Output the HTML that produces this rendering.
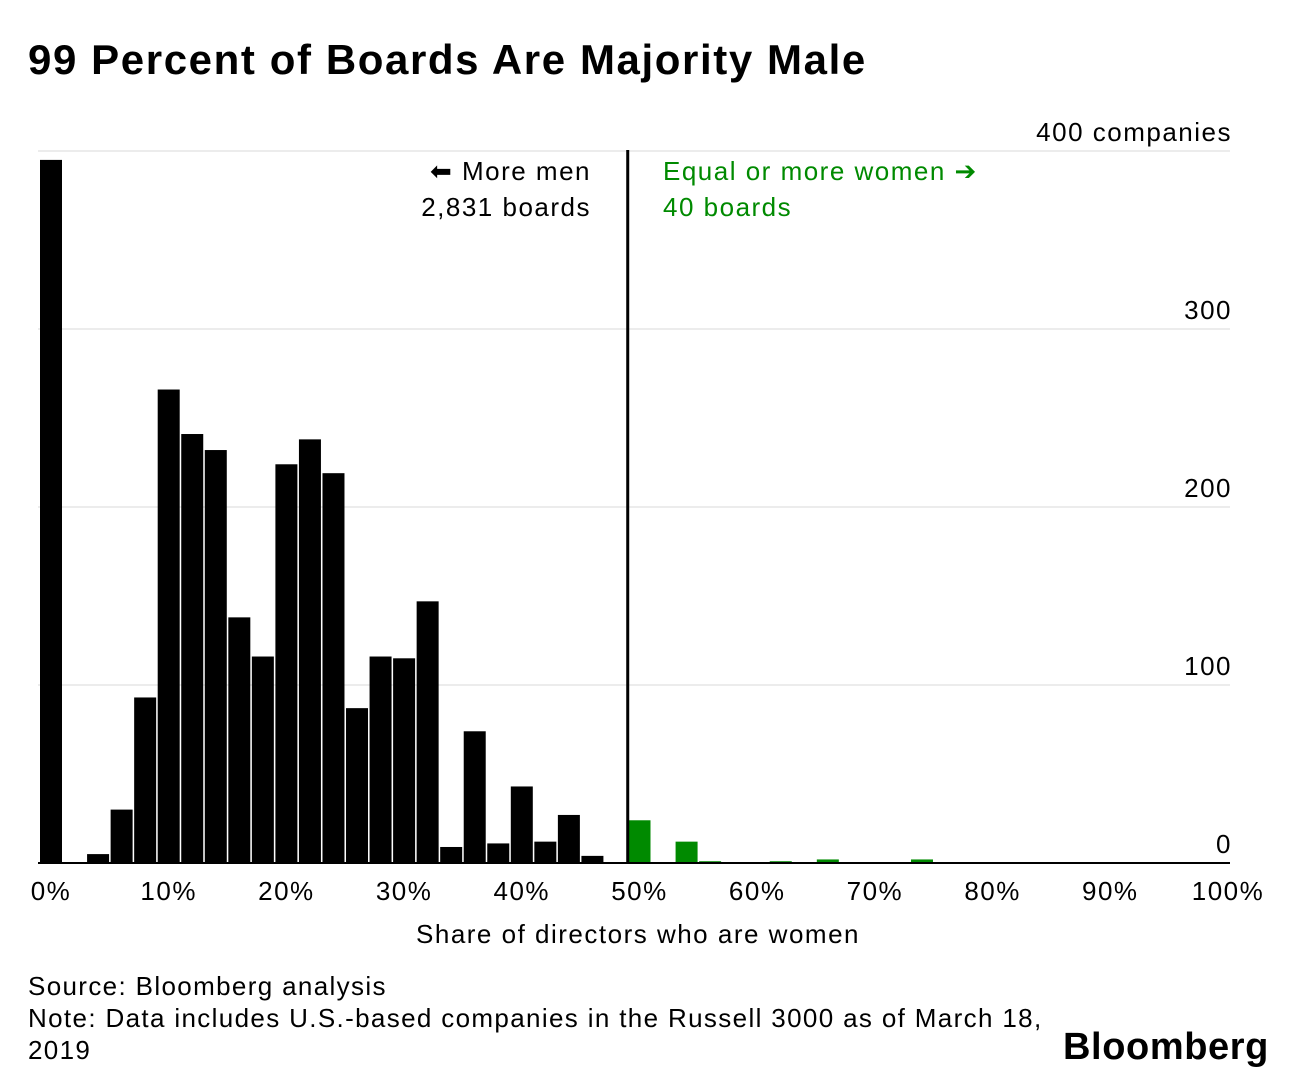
<!DOCTYPE html>
<html><head><meta charset="utf-8"><style>
body{margin:0;background:#fff;font-family:"Liberation Sans",sans-serif;}
#wrap{position:relative;width:1296px;height:1084px;overflow:hidden;}
.t{position:absolute;white-space:nowrap;color:#000;}
</style></head><body>
<div id="wrap">
<div class="t" style="left:28px;top:36px;font-size:42px;font-weight:bold;letter-spacing:1.6px">99 Percent of Boards Are Majority Male</div>
<svg id="chart" width="1296" height="1084" style="position:absolute;left:0;top:0"></svg>
<div class="t" style="left:28px;top:970px;font-size:26px;line-height:32px;letter-spacing:1.35px">Source: Bloomberg analysis<br>Note: Data includes U.S.-based companies in the Russell 3000 as of March 18,<br>2019</div>
<div class="t" style="left:1063px;top:1026px;font-size:38px;font-weight:bold;letter-spacing:0.6px">Bloomberg</div>
</div>
<script>
const bins=[0,2,4,6,8,10,12,14,16,18,20,22,24,26,28,30,32,34,36,38,40,42,44,46,48,50,52,54,56,58,60,62,64,66,68,70,72,74];
const counts=[395,0,5,30,93,266,241,232,138,116,224,238,219,87,116,115,147,9,74,11,43,12,27,4,0,24,0,12,1,0,0,1,0,2,0,0,0,2];
const yTicks=[0,100,200,300,400];
const yLabels=["0","100","200","300","400 companies"];
const xTicks=[0,10,20,30,40,50,60,70,80,90,100];
const NS="http://www.w3.org/2000/svg";
const svg=document.getElementById('chart');
const x=p=>51+p*11.77;
const y=v=>863-v*1.78;
function mk(tag,attrs){const e=document.createElementNS(NS,tag);for(const k in attrs)e.setAttribute(k,attrs[k]);svg.appendChild(e);return e;}
const FS={'font-size':26,'font-family':'Liberation Sans, sans-serif','letter-spacing':'1.5'};
yTicks.forEach((t,i)=>{
  if(t>0){const g=mk('line',{x1:38,x2:1230,y1:y(t),y2:y(t),stroke:'#e6e6e6','stroke-width':1.5});
  
  }
  const tx=mk('text',Object.assign({x:1232,y:y(t)-10,'text-anchor':'end'},FS));
  tx.textContent=yLabels[i];
  
  
});
bins.forEach((b,i)=>{
  if(counts[i]<=0)return;
  const r=mk('rect',{x:x(b)-11,y:y(counts[i]),width:22,height:y(0)-y(counts[i]),fill:b>=50?'#008a00':'#000'});
  
  
});
const base=mk('line',{x1:38,x2:1230,y1:y(0),y2:y(0),stroke:'#000','stroke-width':2});


const div=mk('line',{x1:x(49),x2:x(49),y1:150,y2:y(0),stroke:'#000','stroke-width':3});


xTicks.forEach(t=>{
  const tx=mk('text',Object.assign({x:x(t),y:900,'text-anchor':'middle'},FS));
  tx.textContent=t+'%';
  
  
});
function label(txt,xx,yy,anchor,col,name){const t=mk('text',Object.assign({x:xx,y:yy,'text-anchor':anchor,fill:col},FS));t.textContent=txt;

}
label('Share of directors who are women',638,943,'middle','#000','x-axis-title');
label('\u2B05 More men',591,180,'end','#000','more-men-label');
label('2,831 boards',591,216,'end','#000','more-men-count');
label('Equal or more women \u2794',663,180,'start','#008a00','more-women-label');
label('40 boards',663,216,'start','#008a00','more-women-count');
</script>
</body></html>
